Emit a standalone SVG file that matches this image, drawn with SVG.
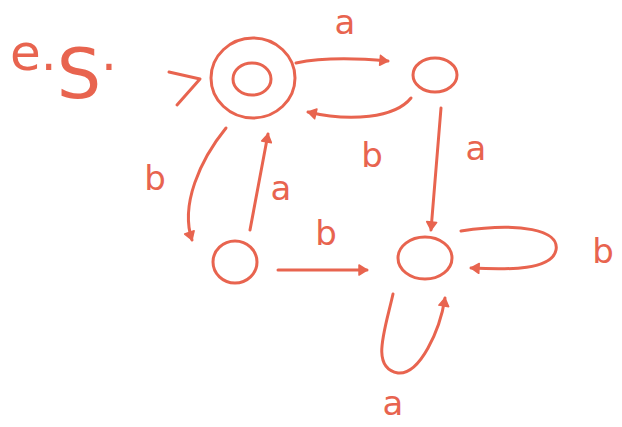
<svg xmlns="http://www.w3.org/2000/svg" width="622" height="427" viewBox="0 0 622 427">
<style>
.s{fill:none;stroke:#e8644f;stroke-width:3;stroke-linecap:round;stroke-linejoin:round}
.t{fill:#e8644f;font-family:"DejaVu Sans",sans-serif;font-size:34px;text-anchor:middle}
</style>
<defs>
<marker id="ah" viewBox="0 0 12 12" refX="10" refY="6" markerWidth="12" markerHeight="12" markerUnits="userSpaceOnUse" orient="auto">
<path d="M2,1 L10,6 L2,11 Z" fill="#e8644f" stroke="#e8644f" stroke-width="1.5" stroke-linejoin="round"/>
</marker>
</defs>
<rect width="622" height="427" fill="#fff"/>
<text x="10" y="70" fill="#e8644f" font-family="DejaVu Sans,sans-serif" font-size="50">e.<tspan font-size="70" dy="28">S</tspan><tspan dy="-28">.</tspan></text>
<g id="q0">
<ellipse class="s" cx="253" cy="78" rx="42" ry="40"/>
<ellipse class="s" cx="252" cy="79" rx="19" ry="16"/>
<path class="s" d="M169,72 L200,79 L177,105"/>
</g>
<g id="q1"><ellipse class="s" cx="435" cy="75" rx="22" ry="17"/></g>
<g id="q2"><ellipse class="s" cx="235" cy="262" rx="22" ry="21"/></g>
<g id="q3"><ellipse class="s" cx="425" cy="258" rx="27" ry="21"/></g>
<g id="edges">
<path class="s" d="M296,63 C320,58 355,58 388,61" marker-end="url(#ah)"/>
<path class="s" d="M411,98 C395,118 350,122 308,112" marker-end="url(#ah)"/>
<path class="s" d="M441,108 L431,230" marker-end="url(#ah)"/>
<path class="s" d="M226,128 C200,160 180,205 192,240" marker-end="url(#ah)"/>
<path class="s" d="M250,230 L268,134" marker-end="url(#ah)"/>
<path class="s" d="M278,270 L367,270" marker-end="url(#ah)"/>
<path class="s" d="M461,231 C520,222 560,230 556,250 C552,270 510,270 471,268" marker-end="url(#ah)"/>
<path class="s" d="M393,294 C385,330 370,368 398,373 C420,375 440,330 445,298" marker-end="url(#ah)"/>
</g>
<g id="labels">
<text class="t" x="345" y="34">a</text>
<text class="t" x="372" y="167">b</text>
<text class="t" x="476" y="160">a</text>
<text class="t" x="155" y="190">b</text>
<text class="t" x="281" y="200">a</text>
<text class="t" x="326" y="245">b</text>
<text class="t" x="603" y="263">b</text>
<text class="t" x="393" y="415">a</text>
</g>
</svg>
